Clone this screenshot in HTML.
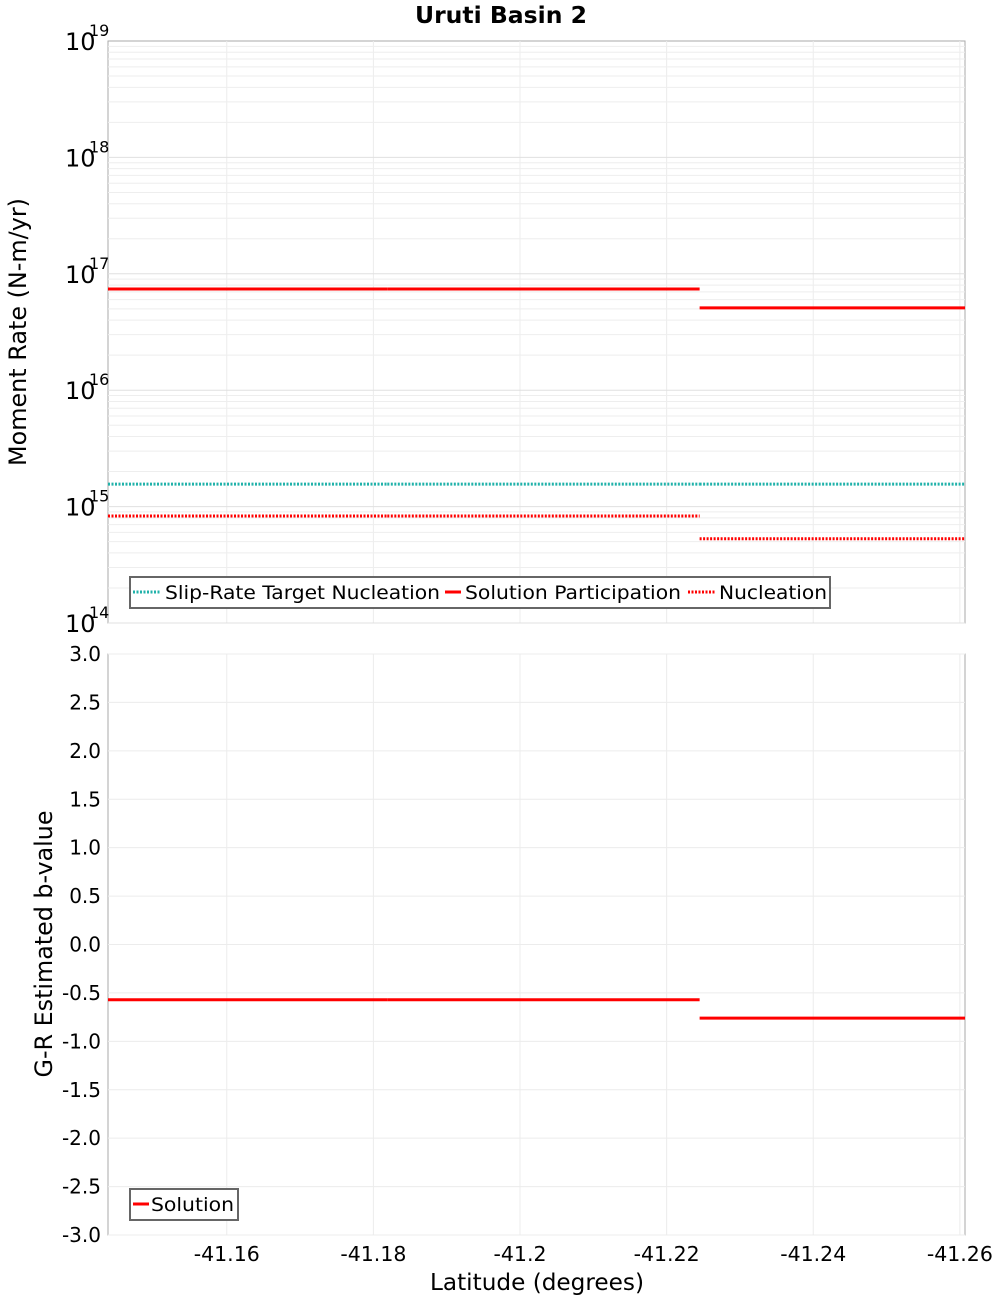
<!DOCTYPE html>
<html><head><meta charset="utf-8"><style>body{margin:0;background:#fff}svg{display:block}text{font-family:"DejaVu Sans","Liberation Sans",sans-serif}</style></head>
<body>
<svg id="chart" width="1000" height="1300" xmlns="http://www.w3.org/2000/svg">
<text x="501" y="23" text-anchor="middle" font-size="23" font-weight="bold" textLength="172" lengthAdjust="spacingAndGlyphs">Uruti Basin 2</text>
<g id="g1"></g><g id="g2"></g>
<text transform="translate(26,332) rotate(-90)" text-anchor="middle" font-size="24" textLength="268" lengthAdjust="spacingAndGlyphs">Moment Rate (N-m/yr)</text>
<text transform="translate(52,944) rotate(-90)" text-anchor="middle" font-size="24" textLength="267" lengthAdjust="spacingAndGlyphs">G-R Estimated b-value</text>
<text x="537" y="1290" text-anchor="middle" font-size="23.5" textLength="214" lengthAdjust="spacingAndGlyphs">Latitude (degrees)</text>
<g>
<rect x="130" y="577" width="700" height="31" fill="#fff" stroke="#666" stroke-width="2"/>
<line x1="133" y1="592" x2="160" y2="592" stroke="#20b2aa" stroke-width="3" stroke-dasharray="2,1.5"/>
<text x="165" y="599" font-size="19" textLength="275" lengthAdjust="spacingAndGlyphs">Slip-Rate Target Nucleation</text>
<line x1="445" y1="592" x2="461" y2="592" stroke="#f00" stroke-width="3"/>
<text x="465" y="599" font-size="19" textLength="216" lengthAdjust="spacingAndGlyphs">Solution Participation</text>
<line x1="688" y1="592" x2="715" y2="592" stroke="#f00" stroke-width="3" stroke-dasharray="2,1.5"/>
<text x="719" y="599" font-size="19" textLength="108" lengthAdjust="spacingAndGlyphs">Nucleation</text>
</g>
<g>
<rect x="130" y="1189" width="108" height="31" fill="#fff" stroke="#666" stroke-width="2"/>
<line x1="133" y1="1204" x2="149" y2="1204" stroke="#f00" stroke-width="3"/>
<text x="151" y="1211" font-size="19" textLength="83" lengthAdjust="spacingAndGlyphs">Solution</text>
</g>
</svg>
<script>
const xTicks=[-41.16,-41.18,-41.2,-41.22,-41.24,-41.26];
const xTickLabels=["-41.16","-41.18","-41.2","-41.22","-41.24","-41.26"];
const segStart=[-41.1438,-41.1819,-41.2245];
const segEnd=[-41.1819,-41.2245,-41.2607];
const targetNucleation=[1.56e15,1.56e15,1.56e15];
const solutionParticipation=[7.4e16,7.4e16,5.1e16];
const nucleation=[8.3e14,8.3e14,5.3e14];
const bValue=[-0.57,-0.57,-0.76];
const logTicks=[14,15,16,17,18,19];
const bTicks=[-3,-2.5,-2,-1.5,-1,-0.5,0,0.5,1,1.5,2,2.5,3];

const NS="http://www.w3.org/2000/svg";
const L=108,R=965,T1=41,B1=623,T2=654,B2=1235;
const xMin=-41.1438,xMax=-41.2607;
const X=v=>L+(v-xMin)/(xMax-xMin)*(R-L);
const Y1=v=>B1-(Math.log10(v)-14)/5*(B1-T1);
const Y2=v=>B2-(v+3)/6*(B2-T2);
function mk(p,tag,a){const e=document.createElementNS(NS,tag);for(const k in a)e.setAttribute(k,a[k]);p.appendChild(e);return e;}
const g1=document.getElementById('g1'),g2=document.getElementById('g2');
for(const [g,T,B] of [[g1,T1,B1],[g2,T2,B2]]){
  const r=mk(g,'rect',{x:L,y:T,width:R-L,height:B-T,fill:'#fff',stroke:'#aaa'});
  
  
  xTicks.forEach(v=>{const l=mk(g,'line',{x1:X(v),x2:X(v),y1:T,y2:B,stroke:'#ececec'});
  
  });
}
for(let d=14;d<19;d++)for(let m=1;m<10;m++){const y=Y1(m*Math.pow(10,d));
  const l=mk(g1,'line',{x1:L,x2:R,y1:y,y2:y,stroke:m==1?'#e0e0e0':'#eeeeee'});
  
  }
logTicks.forEach(p=>{const y=Y1(Math.pow(10,p));
  const t=mk(g1,'text',{x:65,y:y+9,'font-size':24});t.textContent='10';
  
  
  const s=mk(g1,'text',{x:89,y:y-5,'font-size':16});s.textContent=String(p);
  
  });
bTicks.forEach(v=>{const y=Y2(v);
  const l=mk(g2,'line',{x1:L,x2:R,y1:y,y2:y,stroke:'#ececec'});
  
  
  const t=mk(g2,'text',{x:101,y:y+7,'font-size':20,'text-anchor':'end'});t.textContent=v.toFixed(1);
  
  });
xTicks.forEach((v,i)=>{const t=mk(g2,'text',{x:X(v),y:1261,'font-size':20.5,'text-anchor':'middle'});t.textContent=xTickLabels[i];
  
  });
function seg(g,arr,Y,color,dash,name){arr.forEach((v,i)=>{const a={x1:X(segStart[i]),x2:X(segEnd[i]),y1:Y(v),y2:Y(v),stroke:color,'stroke-width':3};if(dash)a['stroke-dasharray']='2,1.5';
  const l=mk(g,'line',a);
  
  });}
seg(g1,targetNucleation,Y1,'#20b2aa',true,'target-nucleation-line');
seg(g1,solutionParticipation,Y1,'#ff0000',false,'solution-participation-line');
seg(g1,nucleation,Y1,'#ff0000',true,'nucleation-line');
seg(g2,bValue,Y2,'#ff0000',false,'b-value-line');
</script>
</body></html>
